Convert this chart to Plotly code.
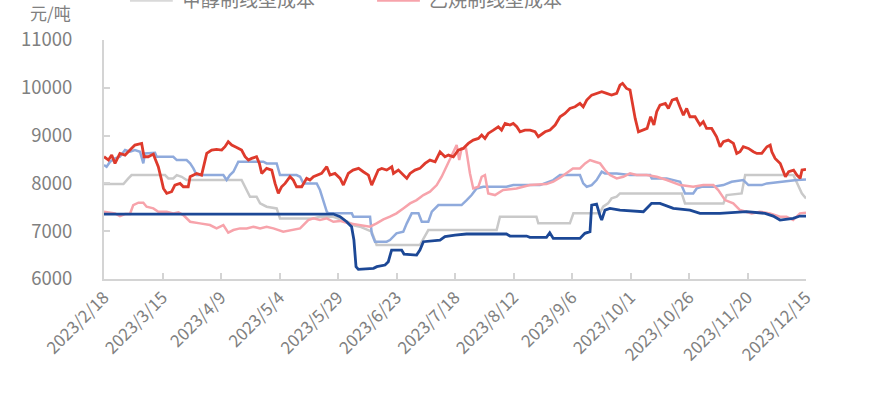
import pandas as pd
import plotly.graph_objects as go

START = "2023-02-18"
tick_days = [0, 25, 50, 75, 100, 125, 150, 175, 200, 225, 250, 275, 300]

red_days = [0,1.9,3.3,4.7,6.8,9,11.1,13.2,16.1,17.1,18.9,21.1,21.8,23.2,24.6,25.4,26.8,28.9,30.3,32.5,
            33.9,36,36.8,39.6,41.7,43.9,46,48.1,50.3,51.7,53.1,54.6,56.7,58.8,60.3,61.7,63.1,65.2,66.4,67.4,
            69.5,71.7,73.1,74.5,75.9,77.4,79.5,80.9,82.3,84.5,86.6,88,89.5,91.6,93,95.2,96.6,98.7,
            100.9,102.3,104.4,106.4,108.8,110.8,113,114.4,115.8,117.2,118.7,120.8,123,123.7,125.8,127.9,129.4,130.8,132.9,135,
            137.2,139.3,141.5,143.6,145.7,147.2,149.3,151.4,153.5,155.7,157.8,160,161.4,162.8,164.2,166.4,168.5,169.9,171.4,173.5,
            174.9,176.4,177.8,179.9,182.1,184.2,185.6,188.5,190.6,192.8,194.9,197,199.1,201.3,
            203.4,204.8,206.3,208.4,210.5,212.7,214.8,216.9,219.1,220.5,221.6,223.3,224.8,225.8,227,228.4,230.8,232.1,233.6,235,
            236.2,237.6,239.9,241.2,242.8,244.7,246.1,247.6,249,250.4,252.6,254.7,256.1,257.5,259.7,261.8,263.3,264.7,266.8,269,
            270.4,271.8,273.2,275.4,277.5,279,281.1,283.3,284.7,285.4,286.8,289,291.2,292.6,294.7,296.1,297.5,298.3,300]
red_vals = [8558,8488,8592,8418,8627,8592,8697,8802,8836,8558,8558,8613,8523,8349,8070,7895,7791,7826,7965,8000,
            7930,7930,8139,8209,8174,8627,8697,8711,8697,8767,8871,8802,8753,8697,8558,8488,8523,8558,8418,8209,
            8314,8279,8000,7791,7930,8000,8139,8070,7930,7930,8105,8070,8139,8174,8209,8349,8174,8209,
            8105,7965,8209,8279,8314,8244,8174,7965,8105,8279,8314,8279,8349,8209,8279,8174,8105,8209,8279,8314,
            8418,8488,8453,8662,8558,8592,8558,8697,8732,8836,8906,8941,9011,8941,9046,9115,9185,9115,9255,9220,
            9255,9185,9080,9115,9115,9080,8976,9080,9115,9220,9394,9464,9568,9603,
            9673,9603,9743,9847,9882,9917,9882,9847,9882,10056,10091,9986,9952,9673,9359,9080,9115,9150,9394,9220,
            9499,9638,9673,9568,9743,9777,9603,9429,9568,9394,9394,9220,9290,9150,9150,8976,8767,8871,8906,8836,
            8627,8662,8767,8732,8662,8627,8627,8767,8802,8662,8523,8418,8139,8244,8279,8174,8105,8279,8293]

lblue_days = [0,1.1,2.6,4.7,6.8,9,11.1,13.2,15.4,16.1,16.8,17.5,21.8,22.5,29.6,31.1,35.3,36.8,38.2,39.6,
              51,52.4,53.8,55.3,57.4,68.1,69.5,73.8,75.2,82.3,83.8,85.2,90.9,92.3,93.7,95.2,95.9,105.9,106.6,113.7,
              114.4,115.8,120.8,122.2,125,127.9,129.4,131.5,134.4,135.8,138.6,140.1,142.9,152.8,155,157.1,159.2,162.1,172,174.9,
              186.3,192,194.9,203.4,204.8,206.3,208.4,210.5,212.7,214.1,219.1,224.8,233.4,234.1,240.5,246.2,248.3,251.8,253.3,255.4,
              260.4,264.7,268.2,273.2,275.4,281.1,283.3,288.9,296.1,300]
lblue_vals = [8383,8349,8453,8523,8558,8697,8662,8697,8662,8523,8418,8627,8641,8558,8558,8488,8488,8418,8314,8174,
              8174,8070,8174,8244,8453,8453,8418,8418,8174,8174,8139,8000,8000,7861,7651,7408,7373,7373,7303,7303,
              6955,6780,6780,6815,6955,6990,7164,7373,7373,7198,7198,7408,7547,7547,7651,7756,7895,7930,7930,7965,
              7965,8070,8174,8174,8000,7930,7965,8070,8244,8209,8209,8174,8174,8105,8105,8035,7791,7791,7895,7930,
              7930,7965,8035,8070,7965,7965,8000,8035,8070,8084]

gray_days = [0,8.3,10.4,11.8,26.1,27.5,29.6,31.1,33.2,35.3,58.8,60.3,62.4,65.2,66.7,69.5,73.8,75.2,89.5,92.3,
             98,101,104,107,109.4,114.4,116.5,135,137.2,138.6,167.8,169.2,184.8,185.6,199.1,200.6,211.8,213.3,215.4,216.9,
             219.1,220.5,246.9,248.3,264.7,266.1,272.5,274,294.6,296.7,298.2,300]
gray_vals = [7986,7986,8105,8174,8174,8105,8105,8174,8139,8070,8070,7930,7721,7721,7582,7512,7477,7268,7268,7303,
             7303,7250,7200,7120,7094,6990,6711,6711,6920,7024,7024,7303,7303,7164,7164,7373,7373,7512,7582,7686,
             7721,7791,7791,7582,7582,7756,7791,8174,8174,7930,7791,7686]

pink_days = [0,4.7,6.8,9,11.1,12.5,14.7,16.8,18.2,21.1,23.2,26.8,29.6,31.8,33.9,36.8,41,45.3,48.1,51,
             53.1,55.3,58.1,61,63.8,66.7,69.5,72.4,76.6,79.5,83.8,87.3,89.5,92.3,95.2,98,100.9,104.4,109.4,113.7,
             116.5,119.4,122.2,125,127.9,130.8,133.6,136.5,139.3,142.2,144.3,146.4,148.6,150,150.7,151.8,152.8,154.7,156.4,157.8,
             160,161.4,162.8,164.2,167.1,170.6,176.3,182,189.1,192,195.5,200.4,203.4,205.6,207.7,209.8,212,214.1,216.2,219.1,
             221.9,224.8,227.6,231.9,236.2,240.5,246.2,251.8,256.1,260.4,262.5,265.4,268.9,271.8,274.6,276.8,280.3,284.6,288.9,291.7,
             294.5,297.4,300]
pink_vals = [7408,7373,7317,7359,7359,7547,7596,7596,7512,7477,7408,7408,7373,7394,7338,7198,7164,7129,7059,7129,
             6968,7024,7059,7059,7094,7059,7094,7059,6990,7024,7059,7233,7268,7233,7268,7198,7215,7164,7129,7094,
             7164,7247,7303,7373,7477,7582,7651,7756,7826,7965,8139,8349,8558,8697,8802,8488,8732,8732,8209,7895,
             7930,8139,8174,7791,7756,7861,7895,7965,7986,8035,8139,8314,8314,8418,8488,8453,8418,8279,8174,8105,
             8139,8209,8174,8174,8139,8070,7965,7930,7965,7965,7861,7651,7582,7442,7408,7373,7408,7373,7303,7303,
             7233,7373,7387]

dblue_days = [0,98,100.9,103.7,105.8,106.8,107.7,108.7,115.2,116.6,120.1,121.5,122.9,127.2,128.2,133.6,135,136.5,143.6,145.7,
              150,154.9,172,173.5,180.6,182,189.1,190.5,192,203.4,205.5,207.7,208.4,210.5,212.1,212.7,214.1,216.2,220.5,230.5,
              232.6,234,237.6,241.2,243.3,250.4,254.7,263.2,274.6,282.5,286,288.9,291.7,294.5,297.4,300]
dblue_vals = [7359,7359,7303,7198,7094,6815,6258,6202,6223,6258,6292,6362,6606,6606,6522,6501,6606,6780,6815,6885,
              6920,6941,6941,6899,6899,6871,6871,6968,6850,6850,6955,6990,7547,7568,7303,7233,7442,7477,7442,7408,
              7512,7582,7582,7512,7477,7442,7373,7373,7408,7373,7317,7233,7247,7268,7317,7317]

series = [
    ("甲醇制线型成本", gray_days, gray_vals, "#C9C9C9", 2.5),
    ("外采乙烯制线型成本", lblue_days, lblue_vals, "#8FAADC", 2.5),
    ("乙烷制线型成本", pink_days, pink_vals, "#F7A3AB", 2.5),
    ("煤制线型成本", dblue_days, dblue_vals, "#1C4896", 2.8),
    ("油制线型成本", red_days, red_vals, "#DE3A2C", 2.8),
]

start = pd.Timestamp(START)
def to_dates(days):
    return start + pd.to_timedelta(days, unit="D")

fig = go.Figure()
for name, d, v, c, w in series:
    fig.add_trace(go.Scatter(x=to_dates(d), y=v, mode="lines", name=name,
                             line=dict(color=c, width=w), showlegend=False))

tick_dates = to_dates(tick_days)
tick_text = [f"{t.year}/{t.month}/{t.day}" for t in tick_dates]

FONT = "Noto Sans CJK SC, Noto Sans, sans-serif"
axis_col = "#D4D4D4"
txt_col = "#808080"

fig.update_layout(
    width=879, height=395,
    margin=dict(l=104, r=73, t=40, b=116, autoexpand=False),
    paper_bgcolor="white", plot_bgcolor="white",
    font=dict(family=FONT, size=19, color=txt_col),
    xaxis=dict(type="date", range=[tick_dates[0], tick_dates[-1]],
               tickvals=tick_dates, ticktext=tick_text, tickangle=-45,
               showgrid=False, zeroline=False, showline=True, linecolor=axis_col, linewidth=2,
               ticks="inside", ticklen=6, tickcolor=axis_col, tickwidth=1.5,
               tickfont=dict(size=17, color=txt_col)),
    yaxis=dict(range=[6000, 11000], dtick=1000, tickformat="d", showgrid=False, zeroline=False,
               showline=True, linecolor=axis_col, linewidth=2,
               ticks="inside", ticklen=6, tickcolor=axis_col, tickwidth=1.5,
               ticklabelstandoff=26, tickfont=dict(size=18.5, color=txt_col)),
    annotations=[
        dict(text="元/吨", xref="paper", yref="paper", x=-0.0755, y=1.113,
             xanchor="center", yanchor="middle", showarrow=False, font=dict(size=17, color=txt_col)),
        dict(text="甲醇制线型成本", xref="paper", yref="paper", x=0.108, y=1.175,
             xanchor="left", yanchor="middle", showarrow=False, font=dict(size=19, color=txt_col)),
        dict(text="乙烷制线型成本", xref="paper", yref="paper", x=0.460, y=1.175,
             xanchor="left", yanchor="middle", showarrow=False, font=dict(size=19, color=txt_col)),
    ],
    shapes=[
        dict(type="line", xref="paper", yref="paper", x0=0.037, x1=0.098, y0=1.165, y1=1.165,
             line=dict(color="#D9D9D9", width=2.5)),
        dict(type="line", xref="paper", yref="paper", x0=0.389, x1=0.450, y0=1.165, y1=1.165,
             line=dict(color="#F7A3AB", width=2.5)),
    ],
)

fig.write_html("out.html", config={"displayModeBar": False},
               post_script="document.body.style.margin='0';document.body.style.overflow='hidden';")
